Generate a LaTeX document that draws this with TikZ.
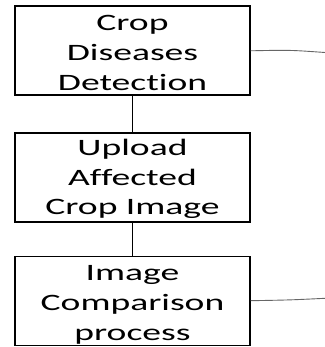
\documentclass[tikz,border=0pt]{standalone}
\usepackage{fontspec}
\newfontfamily\boxfont[FakeStretch=1.6,Ligatures=NoCommon]{Carlito}
\begin{document}
\begin{tikzpicture}[x=1bp,y=-1bp,
  stagebox/.style={draw=black,line width=1.2bp,minimum width=235bp,minimum height=89bp,inner sep=0pt},
  boxtext/.style={anchor=base,inner sep=0pt,font=\boxfont\fontsize{23.5bp}{30bp}\selectfont},
  link/.style={draw=black,line width=0.9bp},
  outlink/.style={draw=black!60,line width=0.9bp}]
\useasboundingbox (0,0) rectangle (325,347);

% three stacked process boxes
\node[stagebox] (b1) at (132.5,50.5) {};
\node[stagebox] (b2) at (132.5,177.5) {};
\node[stagebox] (b3) at (132.5,301) {};

% box labels, one node per line
\node[boxtext] (t11) at (132.5,30) {Crop};
\node[boxtext] (t12) at (132.5,60) {Diseases};
\node[boxtext] (t13) at (132.5,90) {Detection};
\node[boxtext] (t21) at (132.5,155) {Upload};
\node[boxtext] (t22) at (132.5,185) {Affected};
\node[boxtext] (t23) at (132.5,214) {Crop Image};
\node[boxtext] (t31) at (132.5,280) {Image};
\node[boxtext] (t32) at (132.5,310) {Comparison};
\node[boxtext] (t33) at (132.5,340) {process};

% vertical flow between the boxes
\draw[link] (b1.south) -- (b2.north);
\draw[link] (b2.south) -- (b3.north);

% lines leaving to the right
\coordinate (r1) at (325,52.5);
\coordinate (r3) at (325,298.3);
\draw[outlink] ([yshift=-0.3bp]b1.east) .. controls (290,50) .. (r1);
\draw[outlink] ([yshift=0.3bp]b3.east) .. controls (290,300) .. (r3);
\end{tikzpicture}
\end{document}
